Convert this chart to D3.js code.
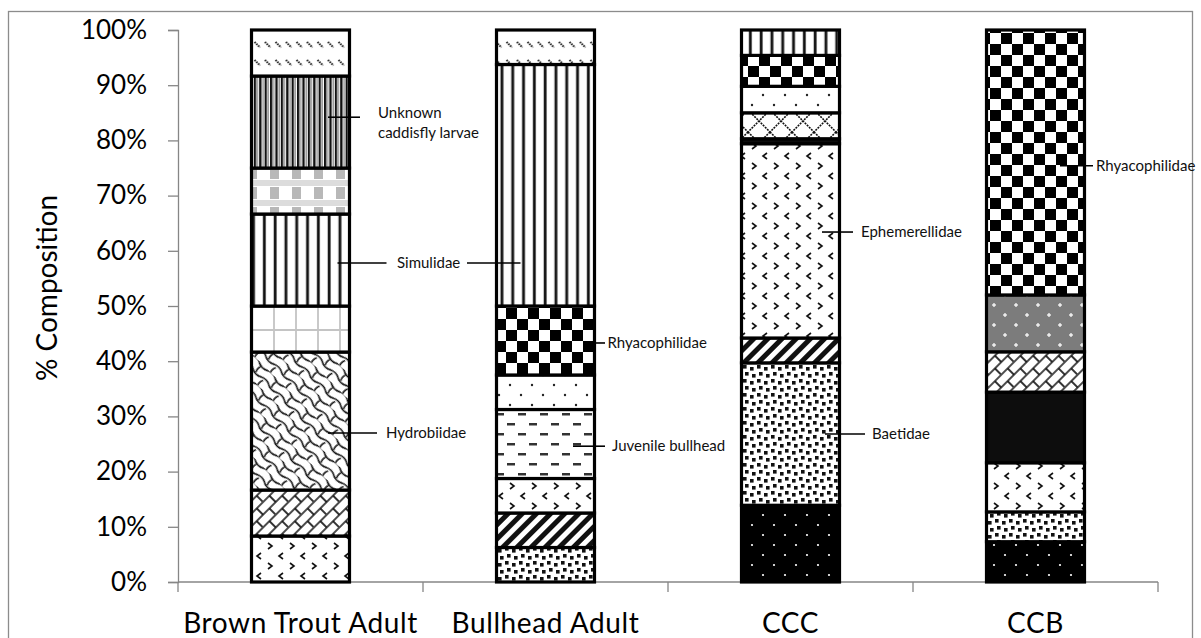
<!DOCTYPE html>
<html><head><meta charset="utf-8">
<script src="https://cdn.jsdelivr.net/npm/d3@7"></script>
<style>body{margin:0;background:#fff;} svg{display:block;font-family:Lato,"Open Sans",sans-serif;}</style>
</head><body><svg id="chart" width="1201" height="638"></svg>
<script>
// ---------- data ----------
const categories = ["Brown Trout Adult", "Bullhead Adult", "CCC", "CCB"];
const tickValues = [0, 10, 20, 30, 40, 50, 60, 70, 80, 90, 100];
const tickLabels = ["0%", "10%", "20%", "30%", "40%", "50%", "60%", "70%", "80%", "90%", "100%"];

// segment values (% composition), bottom to top
const brownTroutValues = [8.33, 8.33, 25.0, 8.33, 16.67, 8.33, 16.67, 8.34];
const bullheadValues   = [6.25, 6.25, 6.25, 12.5, 6.25, 12.5, 43.75, 6.25];
const cccValues        = [13.9, 25.8, 4.5, 35.2, 0.9, 4.7, 4.8, 5.6, 4.6];
const ccbValues        = [7.3, 5.4, 8.9, 12.8, 7.3, 10.3, 48.0];

// fill pattern of each segment
const brownTroutFills = ["divot", "brick", "shingle", "grid", "vertical", "sphere", "darkVertical", "dashDiag"];
const bullheadFills   = ["confetti", "wideDiag", "divot", "dashHoriz", "smallDots", "checker", "vertical", "dashDiag"];
const cccFills        = ["blackDots", "confetti", "wideDiag", "divot", "solid", "trellis", "smallDots", "checker", "vertical"];
const ccbFills        = ["blackDots", "confetti", "divot", "solid", "brick", "grayDots", "checker"];

// annotations
const annotationLabels     = [["Unknown", "caddisfly larvae"], ["Simulidae"], ["Hydrobiidae"], ["Rhyacophilidae"], ["Juvenile bullhead"], ["Ephemerellidae"], ["Baetidae"], ["Rhyacophilidae"]];
const annotationValues     = [84.2, 57.8, 27.0, 43.3, 24.6, 63.4, 26.8, 75.4];
const annotationCategories = [0, 0, 0, 1, 1, 2, 2, 3];

// ---------- layout ----------
const annotationLayout = [
  {x1: 27.5, x2: 59.5, tx: 77.5, dy: -4},
  {x1: 37, x2: 86, tx: 96.5, x3: 166.5, x4: 220, dy: 0},
  {x1: 27.5, x2: 76.5, tx: 85.5, dy: 0},
  {x1: 41.5, x2: 59.5, tx: 62, dy: 0},
  {x1: 27.5, x2: 59.5, tx: 66.5, dy: 0},
  {x1: 31.5, x2: 62.5, tx: 70.5, dy: 0},
  {x1: 34.5, x2: 74.5, tx: 81.5, dy: 0},
  {x1: 24.5, x2: 57.5, tx: 60.5, dy: 0}
];

const svg = d3.select("#chart");
const plot = {left: 178, right: 1158, top: 30, bottom: 582};

// chart border
svg.append("rect").attr("x", 8.5).attr("y", 11.5).attr("width", 1184).attr("height", 640)
  .attr("fill", "#fff").attr("stroke", "#8c8c8c").attr("stroke-width", 1.3);

// ---------- patterns ----------
const defs = svg.append("defs");
function pat(id, w, h, fn, tr) {
  const p = defs.append("pattern").attr("id", id).attr("patternUnits", "userSpaceOnUse")
    .attr("width", w).attr("height", h);
  if (tr) p.attr("patternTransform", tr);
  fn(p, w, h);
}
function bg(p, w, h, c) { p.append("rect").attr("width", w).attr("height", h).attr("fill", c); }

pat("divot", 22, 20, (p, w, h) => {
  bg(p, w, h, "#fff");
  p.append("path").attr("d", "M4,3 L8,6 L4,9 M19,13 L15,16 L19,19")
    .attr("fill", "none").attr("stroke", "#111").attr("stroke-width", 1.6);
});
pat("brick", 18, 18, (p, w, h) => {
  bg(p, w, h, "#fff");
  p.append("path").attr("d", "M0,1 H18 M0,10 H18 M2,1 V10 M11,10 V18")
    .attr("fill", "none").attr("stroke", "#111").attr("stroke-width", 1.7);
}, "rotate(-45)");
pat("shingle", 22, 18, (p, w, h) => {
  bg(p, w, h, "#fff");
  p.append("path").attr("d", "M0,1 q5.5,3 11,0 t11,0 M0,10 q5.5,3 11,0 t11,0 M4,2 q-2,4 0,8 M15,11 q-2,4 0,8")
    .attr("fill", "none").attr("stroke", "#111").attr("stroke-width", 1.6);
}, "rotate(45)");
pat("grid", 22, 32, (p, w, h) => {
  bg(p, w, h, "#fff");
  p.append("path").attr("d", "M10,0 V32 M0,10 H22").attr("stroke", "#c4c4c4").attr("stroke-width", 1.8);
});
pat("sphere", 22, 20, (p, w, h) => {
  bg(p, w, h, "#fff");
  p.append("rect").attr("x", 0).attr("y", 0).attr("width", 22).attr("height", 6).attr("fill", "#dcdcdc");
  p.append("rect").attr("x", 6).attr("y", 7).attr("width", 9).attr("height", 12).attr("fill", "#b8b8b8");
});
pat("vertical", 10.8, 10, (p, w, h) => {
  bg(p, w, h, "#fff");
  p.append("rect").attr("x", 3.5).attr("width", 3.4).attr("height", h).attr("fill", "#888");
  p.append("rect").attr("x", 4).attr("width", 2.2).attr("height", h).attr("fill", "#111");
});
pat("darkVertical", 5.4, 10, (p, w, h) => {
  bg(p, w, h, "#fff");
  p.append("rect").attr("x", 0).attr("width", 2.3).attr("height", h).attr("fill", "#111");
  p.append("rect").attr("x", 3.2).attr("width", 1.2).attr("height", h).attr("fill", "#8a8a8a");
});
pat("dashDiag", 10.5, 18, (p, w, h) => {
  bg(p, w, h, "#fff");
  p.append("path").attr("d", "M2.5,6 L8,11.5").attr("stroke", "#222").attr("stroke-width", 2)
    .attr("stroke-dasharray", "1.6,0.9");
});
pat("confetti", 14, 14, (p, w, h) => {
  bg(p, w, h, "#fff");
  [[1, 1], [8, 3], [3, 8], [10, 10]].forEach(([x, y]) =>
    p.append("rect").attr("x", x).attr("y", y).attr("width", 3.6).attr("height", 3.6).attr("fill", "#111"));
});
pat("wideDiag", 10, 10, (p, w, h) => {
  bg(p, w, h, "#fff");
  p.append("rect").attr("x", 0).attr("width", 5).attr("height", h).attr("fill", "#111");
}, "rotate(45)");
pat("checker", 22, 22, (p, w, h) => {
  bg(p, w, h, "#fff");
  p.append("rect").attr("x", 0).attr("y", 0).attr("width", 11).attr("height", 11).attr("fill", "#000");
  p.append("rect").attr("x", 11).attr("y", 11).attr("width", 11).attr("height", 11).attr("fill", "#000");
});
pat("smallDots", 22, 20, (p, w, h) => {
  bg(p, w, h, "#fff");
  [[4, 5], [15, 15]].forEach(([x, y]) => p.append("circle").attr("cx", x).attr("cy", y).attr("r", 1.2).attr("fill", "#222"));
});
pat("dashHoriz", 22, 20, (p, w, h) => {
  bg(p, w, h, "#fff");
  p.append("rect").attr("x", 1).attr("y", 3).attr("width", 8).attr("height", 2.5).attr("fill", "#333");
  p.append("rect").attr("x", 12).attr("y", 13).attr("width", 8).attr("height", 2.5).attr("fill", "#333");
});
pat("trellis", 22, 22, (p, w, h) => {
  bg(p, w, h, "#fff");
  p.append("path").attr("d", "M0,0 L22,22 M22,0 L0,22").attr("stroke", "#111").attr("stroke-width", 1.6)
    .attr("stroke-dasharray", "2,1");
});
pat("blackDots", 22, 20, (p, w, h) => {
  bg(p, w, h, "#000");
  [[4, 5], [15, 15]].forEach(([x, y]) => p.append("circle").attr("cx", x).attr("cy", y).attr("r", 1.1).attr("fill", "#fff"));
});
pat("grayDots", 22, 20, (p, w, h) => {
  bg(p, w, h, "#7c7c7c");
  [[4, 5], [15, 15]].forEach(([x, y]) => {
    p.append("rect").attr("x", x - 2).attr("y", y - 0.6).attr("width", 4).attr("height", 1.2).attr("fill", "#fff");
    p.append("rect").attr("x", x - 0.6).attr("y", y - 2).attr("width", 1.2).attr("height", 4).attr("fill", "#fff");
  });
});
pat("solid", 10, 10, (p, w, h) => bg(p, w, h, "#0d0d0d"));

// ---------- scales ----------
const x = d3.scaleBand().domain(categories).range([plot.left, plot.right]).paddingInner(0.6).paddingOuter(0.3);
const y = d3.scaleLinear().domain([0, 100]).range([plot.bottom, plot.top]);

// ---------- axes ----------
const yAxis = svg.append("g").attr("transform", `translate(${plot.left},0)`)
  .call(d3.axisLeft(y).tickValues(tickValues).tickFormat((d, i) => tickLabels[i]).tickSize(10).tickPadding(21));
yAxis.select(".domain").attr("stroke", "#868686").attr("stroke-width", 1.3);
yAxis.selectAll(".tick line").attr("stroke", "#868686").attr("stroke-width", 1.3);
yAxis.selectAll(".tick text").attr("font-size", 26).attr("fill", "#000").attr("font-family", "Lato");

const xAxisG = svg.append("g").attr("transform", `translate(0,${plot.bottom})`);
xAxisG.append("line").attr("x1", plot.left).attr("x2", plot.right).attr("stroke", "#868686").attr("stroke-width", 1.3);
const step = x.step();
d3.range(categories.length + 1).forEach(i => {
  const xx = plot.left + i * step;
  xAxisG.append("line").attr("x1", xx).attr("x2", xx).attr("y1", 0).attr("y2", 10).attr("stroke", "#868686").attr("stroke-width", 1.3);
});
xAxisG.selectAll("text.cat").data(categories).join("text").attr("class", "cat")
  .attr("x", d => x(d) + x.bandwidth() / 2).attr("y", 51).attr("text-anchor", "middle")
  .attr("font-size", 28).attr("letter-spacing", 0.6).attr("fill", "#000").text(d => d);

svg.append("text").attr("transform", "translate(57,288) rotate(-90)").attr("text-anchor", "middle")
  .attr("font-size", 28).attr("fill", "#000").text("% Composition");

// ---------- bars ----------
const seriesValues = [brownTroutValues, bullheadValues, cccValues, ccbValues];
const seriesFills = [brownTroutFills, bullheadFills, cccFills, ccbFills];
categories.forEach((cat, ci) => {
  let acc = 0;
  const segs = seriesValues[ci].map((v, i) => { const s = {y0: acc, y1: acc + v, fill: seriesFills[ci][i]}; acc += v; return s; });
  svg.append("g").selectAll("rect").data(segs).join("rect")
    .attr("x", x(cat)).attr("width", x.bandwidth())
    .attr("y", d => y(d.y1)).attr("height", d => y(d.y0) - y(d.y1))
    .attr("fill", d => `url(#${d.fill})`).attr("stroke", "#000").attr("stroke-width", 3.2);
});

// ---------- annotations ----------
annotationLabels.forEach((lines, i) => {
  const L = annotationLayout[i];
  const cx = x(categories[annotationCategories[i]]) + x.bandwidth() / 2;
  const yy = y(annotationValues[i]);
  const g = svg.append("g");
  g.append("line").attr("x1", cx + L.x1).attr("x2", cx + L.x2).attr("y1", yy).attr("y2", yy).attr("stroke", "#000").attr("stroke-width", 1.6);
  if (L.x3 !== undefined)
    g.append("line").attr("x1", cx + L.x3).attr("x2", cx + L.x4).attr("y1", yy).attr("y2", yy).attr("stroke", "#000").attr("stroke-width", 1.6);
  const t = g.append("text").attr("x", cx + L.tx).attr("y", yy + L.dy).attr("font-size", 15).attr("fill", "#111");
  lines.forEach((ln, k) => t.append("tspan").attr("x", cx + L.tx).attr("dy", k === 0 ? "0.35em" : "1.27em").text(ln));
});
</script></body></html>
